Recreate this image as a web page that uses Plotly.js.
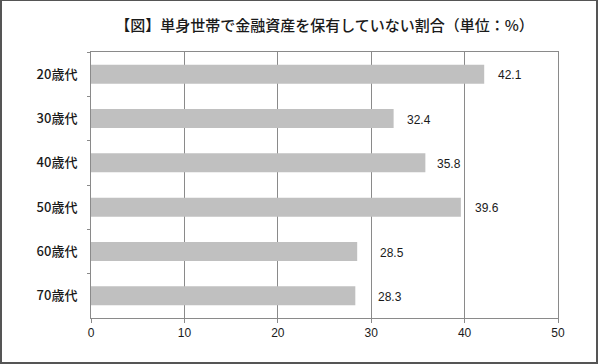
<!DOCTYPE html>
<html>
<head>
<meta charset="utf-8">
<script src="https://cdn.plot.ly/plotly-3.0.1.min.js"></script>
<style>
html, body { margin: 0; padding: 0; background: #fff; }
#frame { position: absolute; left: 0; top: 0; width: 598px; height: 364px; box-sizing: border-box; border: 2px solid #555; border-top-width: 1px; }
#chart { position: absolute; left: 0; top: 0; width: 600px; height: 364px; }
</style>
</head>
<body>
<div id="chart"></div>
<div id="frame"></div>
<script>
var categories = ["20歳代", "30歳代", "40歳代", "50歳代", "60歳代", "70歳代"];
var values = [42.1, 32.4, 35.8, 39.6, 28.5, 28.3];
var valueLabels = ["42.1", "32.4", "35.8", "39.6", "28.5", "28.3"];
var xTicks = [0, 10, 20, 30, 40, 50];
var titleText = "【図】単身世帯で金融資産を保有していない割合（単位：%）";

var labelShift = [12, 11, 10, 12, 21, 21];

var annotations = categories.map(function (c, i) {
  return {
    x: values[i], y: c, xref: "x", yref: "y",
    text: valueLabels[i], showarrow: false,
    xanchor: "left", yanchor: "middle", xshift: labelShift[i], yshift: -1,
    font: { family: "Liberation Sans, Arial, sans-serif", size: 12, color: "#1a1a1a" }
  };
});

var trace = {
  type: "bar", orientation: "h",
  x: values, y: categories,
  marker: { color: "#c0c0c0", line: { width: 0 } },
  width: 0.43,
  hoverinfo: "none"
};

var layout = {
  width: 600, height: 364,
  margin: { l: 91, r: 42, t: 52, b: 46, pad: 0 },
  paper_bgcolor: "rgba(0,0,0,0)", plot_bgcolor: "#fff",
  title: {
    text: titleText, x: 0.5, xref: "paper", y: 28, yref: "container",
    yanchor: "middle", xanchor: "center",
    font: { family: "Noto Sans CJK JP, sans-serif", size: 15, color: "#1a1a1a", weight: 500 }
  },
  showlegend: false,
  xaxis: {
    range: [0, 50], tickvals: xTicks, ticktext: xTicks.map(String),
    showgrid: true, gridcolor: "#8a8a8a", gridwidth: 1,
    showline: true, linecolor: "#8a8a8a", linewidth: 1, mirror: true,
    ticks: "outside", ticklen: 4, tickcolor: "#8a8a8a",
    zeroline: false,
    tickfont: { family: "Liberation Sans, Arial, sans-serif", size: 12, color: "#1a1a1a" },
    fixedrange: true
  },
  yaxis: {
    type: "category", autorange: "reversed",
    showline: true, linecolor: "#8a8a8a", linewidth: 1, mirror: true,
    ticks: "outside", ticklen: 3, tickcolor: "#8a8a8a", tickson: "boundaries",
    showgrid: false, zeroline: false,
    ticklabelstandoff: 10,
    tickfont: { family: "Noto Sans CJK JP, sans-serif", size: 13, color: "#1a1a1a", weight: 500 },
    fixedrange: true
  },
  annotations: annotations
};

Plotly.newPlot("chart", [trace], layout, { displayModeBar: false, staticPlot: true });
</script>
</body>
</html>
